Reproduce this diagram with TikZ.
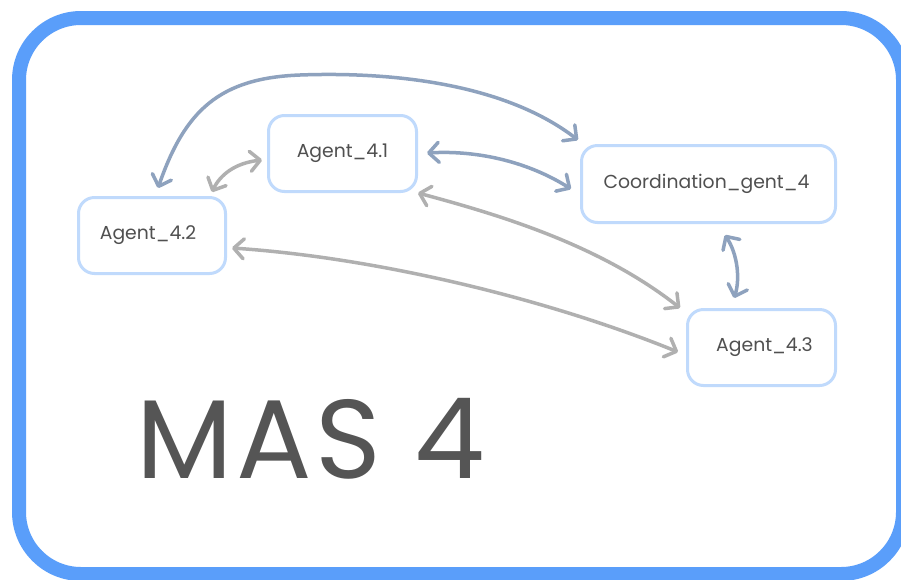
\documentclass[tikz,border=0pt]{standalone}
\usepackage{fontspec}
\setmainfont{Poppins}
\usetikzlibrary{arrows.meta}
\definecolor{frameblue}{RGB}{90,158,250}
\definecolor{nodeborder}{RGB}{192,218,252}
\definecolor{linkblue}{RGB}{142,162,190}
\definecolor{linkgrey}{RGB}{176,176,176}
\definecolor{txt}{RGB}{80,80,80}
\definecolor{bigtxt}{RGB}{85,85,85}
\begin{document}
\begin{tikzpicture}[x=1pt,y=-1pt,
  agent/.style={draw=nodeborder, line width=3pt, rounded corners=16pt,
    minimum height=76pt, inner sep=0pt, text=txt,
    font=\fontsize{18.8}{22}\selectfont},
  link/.style={line width=3.5pt, line cap=round, line join=round,
    {Straight Barb[length=10pt,width=20pt,round]}-{Straight Barb[length=10pt,width=20pt,round]}},
  bluelink/.style={link, draw=linkblue},
  greylink/.style={link, draw=linkgrey}]
\useasboundingbox (0,0) rectangle (901,579);
\clip (0,0) rectangle (901,579);
\fill[white] (0,0) rectangle (901,579);
\draw[frameblue, line width=14pt, rounded corners=62pt] (19,18) rectangle (903,574);

\node[agent, minimum width=148pt] (a1) at (342.5,153.5) {\raisebox{-1.5pt}{Agent\_4.1}};
\node[agent, minimum width=147pt] (a2) at (152,235.5) {\raisebox{-1.5pt}{\hspace{-8pt}Agent\_4.2}};
\node[agent, minimum width=254pt, minimum height=77pt] (co) at (708.5,184) {\raisebox{-1.5pt}{\hspace{-4pt}Coordination\_gent\_4}};
\node[agent, minimum width=148pt] (a3) at (761.5,347.5) {\raisebox{-1.5pt}{\hspace{6pt}Agent\_4.3}};

\node[inner sep=0pt, text=bigtxt, font=\fontsize{112}{120}\selectfont\addfontfeature{LetterSpace=3}] (mas) at (310.5,439) {MAS 4};

\draw[bluelink] ([shift={(6,-47.5)}]a2.center) .. controls (185,110) and (220,78) .. (300,75)
  .. controls (380,72) and (500,80) .. ([shift={(-130.5,-44)}]co.center);
\draw[greylink] ([shift={(-80.5,6.5)}]a1.center) .. controls (235,163) and (220,175) .. ([shift={(60,-43.5)}]a2.center);
\draw[bluelink] ([shift={(84.5,-0.5)}]a1.center) .. controls (480,150) and (530,163) .. ([shift={(-137.5,5)}]co.center);
\draw[greylink] ([shift={(75.5,39.5)}]a1.center) .. controls (500,215) and (600,245) .. ([shift={(-81.5,-39.5)}]a3.center);
\draw[greylink] ([shift={(80,12.5)}]a2.center) .. controls (380,258) and (550,300) .. ([shift={(-83.5,4.5)}]a3.center);
\draw[bluelink] ([shift={(16.5,51)}]co.center) .. controls (738,255) and (740,280) .. ([shift={(-27.5,-49.5)}]a3.center);
\end{tikzpicture}
\end{document}
